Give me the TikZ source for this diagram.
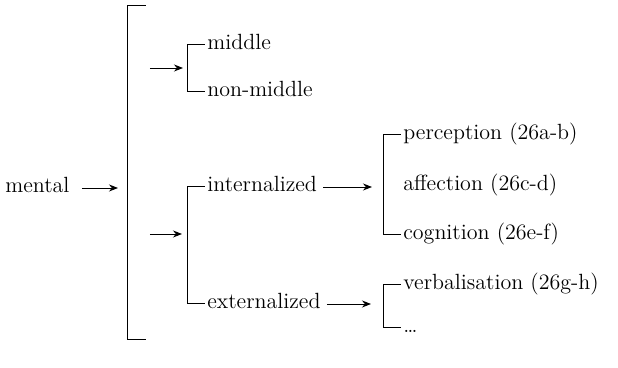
\documentclass[tikz,border=0pt]{standalone}
\usepackage{tikz}
\usetikzlibrary{arrows.meta}

\begin{document}
\begin{tikzpicture}[x=0.5pt, y=-0.5pt,
      cat/.style={anchor=west, inner sep=1pt, text height=7pt, text depth=2pt,
                  font=\fontsize{11}{13}\selectfont},
      brk/.style={line width=0.5pt},
      arr/.style={line width=0.45pt, -{Stealth[length=4.5pt, width=3.5pt]}},
    ]
    \useasboundingbox (0,0) rectangle (618,368);
    \def\tick{17}
    %% root and the big bracket
    \node[cat] (mental) at (3,188) {mental};
    \coordinate (big-t) at (146,6);
    \coordinate (big-b) at (146,340);
    \draw[brk] (big-t) -- (128,6) -- (128,340) -- (big-b);
    \coordinate (mental-out) at (82,188);
    \coordinate (big-in) at (118,188);
    \draw[arr] (mental-out) -- (big-in);
    %% first choice: middle / non-middle
    \node[cat] (mid)    at (205,45) {middle};
    \node[cat] (nonmid) at (205,92) {non-middle};
    \draw[brk] (mid.west) -- ++(-\tick,0) |- (nonmid.west);
    \coordinate (mid-in) at (183,68);
    \draw[arr] (150,68) -- (mid-in);
    %% second choice: internalized / externalized
    \node[cat] (int) at (205,187) {internalized};
    \node[cat] (ext) at (205,304) {externalized};
    \draw[brk] (int.west) -- ++(-\tick,0) |- (ext.west);
    \coordinate (int-in) at (182,234);
    \draw[arr] (150,234) -- (int-in);
    %% internalized subtypes
    \node[cat] (perc) at (401,135) {perception (26a-b)};
    \node[cat] (aff)  at (401,186) {affection (26c-d)};
    \node[cat] (cogn) at (401,235) {cognition (26e-f)};
    \draw[brk] (perc.west) -- ++(-\tick,0) |- (cogn.west);
    \coordinate (perc-in) at (372,187);
    \draw[arr] ([xshift=2pt]int.east) -- (perc-in);
    %% externalized subtypes
    \node[cat] (verb) at (401,285) {verbalisation (26g-h)};
    \node[cat] (more) at (401,328) {\dots};
    \draw[brk] (verb.west) -- ++(-\tick,0) |- (more.west);
    \coordinate (verb-in) at (371,304);
    \draw[arr] ([xshift=2pt]ext.east) -- (verb-in);
\end{tikzpicture}
\end{document}
